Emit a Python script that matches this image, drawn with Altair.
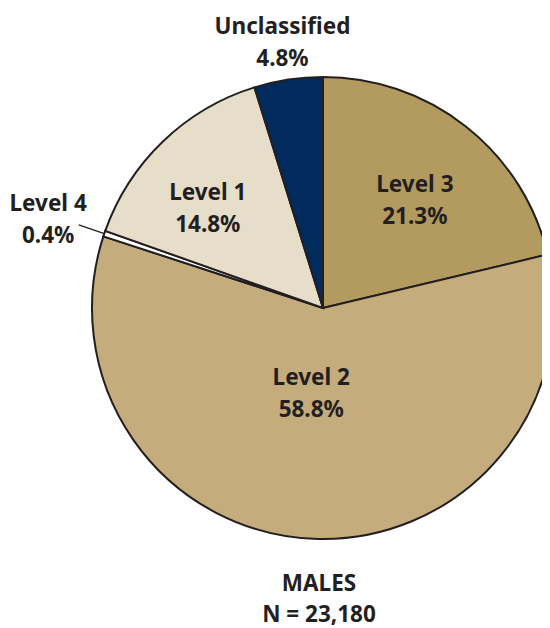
import altair as alt
import pandas as pd

# ---- data ----
categories = ["Level 3", "Level 2", "Level 4", "Level 1", "Unclassified"]
percents = [21.3, 58.8, 0.4, 14.8, 4.8]
colors = ["#b39a5e", "#c4ac7c", "#ffffff", "#e6dec9", "#002b5c"]
title_lines = ["MALES", "N = 23,180"]

df = pd.DataFrame({"category": categories, "pct": percents,
                   "order": list(range(len(categories)))})

CX, CY, R = 315, 300, 231
INK = "#231f20"
FONT = "Noto Sans"

base = alt.Chart(df)

pie = base.mark_arc(radius=R, stroke=INK, strokeWidth=2).encode(
    theta=alt.Theta("pct:Q", stack=True),
    order=alt.Order("order:Q"),
    color=alt.Color("category:N",
                    scale=alt.Scale(domain=categories, range=colors),
                    legend=None),
    x=alt.value(CX),
    y=alt.value(CY),
)

polar = base.transform_window(
    cum="sum(pct)", sort=[alt.SortField("order")], frame=[None, 0]
).transform_joinaggregate(
    total="sum(pct)"
).transform_calculate(
    mid="(datum.cum - datum.pct / 2) / datum.total * 2 * PI"
)

labels = polar.transform_calculate(
    lr="datum.category == 'Level 4' ? 289 : datum.category == 'Unclassified' ? 270 : "
       "datum.category == 'Level 2' ? 85 : datum.category == 'Level 1' ? 153 : 142",
    adj="datum.category == 'Level 2' ? 0.098 : datum.category == 'Level 1' ? -0.087 : "
        "datum.category == 'Level 3' ? 0.035 : datum.category == 'Level 4' ? -0.014 : 0",
    ang="datum.mid + datum.adj",
    lx=f"{CX} + datum.lr * sin(datum.ang)",
    ly=f"{CY} - datum.lr * cos(datum.ang)",
    label="datum.category + '\\n' + format(datum.pct, '.1f') + '%'",
).mark_text(
    font=FONT, fontWeight="bold", fontSize=22.5, lineHeight=32, color=INK,
    lineBreak="\n", align="center", baseline="middle", dy=-14.5,
).encode(
    x=alt.X("lx:Q", scale=None),
    y=alt.Y("ly:Q", scale=None),
    text="label:N",
)

leader = polar.transform_filter(
    "datum.category == 'Level 4'"
).transform_calculate(
    ax=f"{CX} + {R} * sin(datum.mid)",
    ay=f"{CY} - {R} * cos(datum.mid)",
    bx=f"{CX} + 258 * sin(datum.mid)",
    by=f"{CY} - 258 * cos(datum.mid)",
).mark_rule(color=INK, strokeWidth=1.2).encode(
    x=alt.X("ax:Q", scale=None),
    y=alt.Y("ay:Q", scale=None),
    x2="bx:Q",
    y2="by:Q",
)

title = alt.Chart(pd.DataFrame({"t": ["\n".join(title_lines)]})).mark_text(
    font=FONT, fontWeight="bold", fontSize=22.5, lineHeight=31, color=INK,
    lineBreak="\n", align="center", baseline="middle", dy=-15,
).encode(
    text="t:N",
    x=alt.value(311),
    y=alt.value(591),
)

chart = alt.layer(pie, leader, labels, title).properties(
    width=534, height=620,
    autosize=alt.AutoSizeParams(type="none"),
    padding=0,
).configure_view(stroke=None)

chart.save("out.html", embed_options={"renderer": "svg", "actions": False})
